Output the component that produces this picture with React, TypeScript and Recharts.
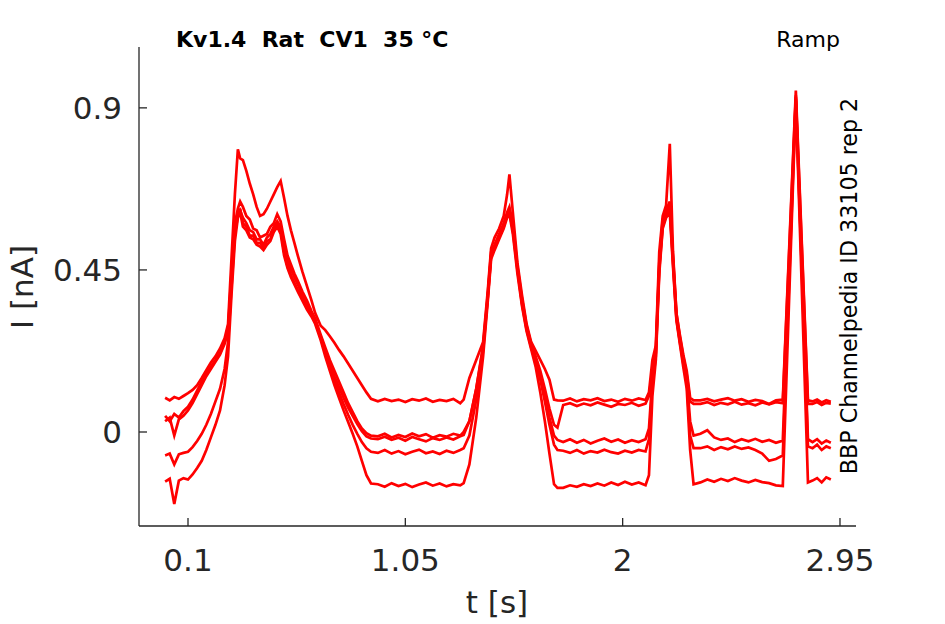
import { LineChart, Line, XAxis, YAxis } from 'recharts';

// sample times [s]
const times = [
  0.0, 0.02, 0.04, 0.06, 0.08, 0.1, 0.12, 0.14, 0.16, 0.18, 0.2, 0.22, 0.24, 0.26, 0.275,
  0.29, 0.305, 0.318, 0.328,
  0.34, 0.355, 0.37, 0.385, 0.4, 0.415, 0.43, 0.445, 0.46, 0.475, 0.49, 0.505, 0.52, 0.535, 0.55, 0.565, 0.58, 0.6, 0.62, 0.64, 0.656,
  0.68, 0.7, 0.72, 0.74, 0.76, 0.78, 0.8, 0.82, 0.84, 0.86, 0.88, 0.9,
  0.93, 0.96, 0.99, 1.02, 1.05, 1.08, 1.11, 1.14, 1.17, 1.2, 1.23, 1.26, 1.29, 1.305,
  1.33, 1.36, 1.39, 1.41, 1.425, 1.44, 1.46, 1.48, 1.495, 1.505,
  1.52, 1.54, 1.56, 1.58, 1.6, 1.62, 1.64, 1.66, 1.68, 1.7, 1.715,
  1.74, 1.77, 1.8, 1.83, 1.86, 1.89, 1.92, 1.95, 1.98, 2.01, 2.04, 2.07, 2.1, 2.115,
  2.13, 2.145, 2.16, 2.175, 2.19, 2.206, 2.22, 2.235, 2.25, 2.265, 2.28, 2.295, 2.31,
  2.34, 2.37, 2.4, 2.43, 2.46, 2.49, 2.52, 2.55, 2.58, 2.61, 2.64, 2.67, 2.7,
  2.757, 2.81,
  2.83, 2.85, 2.87, 2.89, 2.91,
];

// current traces [nA]
const traceA = [
  0.095, 0.088, 0.097, 0.092, 0.1, 0.108, 0.117, 0.13, 0.15, 0.172, 0.193, 0.21, 0.232, 0.26, 0.3,
  0.48, 0.66, 0.785, 0.76,
  0.755, 0.725, 0.69, 0.66, 0.625, 0.6, 0.605, 0.62, 0.64, 0.66, 0.68, 0.697, 0.65, 0.6, 0.56, 0.525, 0.49, 0.445, 0.405, 0.365, 0.33,
  0.295, 0.283, 0.266, 0.248, 0.228, 0.21, 0.19, 0.17, 0.15, 0.13, 0.11, 0.092,
  0.085, 0.092, 0.086, 0.09, 0.083, 0.091, 0.087, 0.093, 0.084, 0.089, 0.086, 0.092, 0.08, 0.09,
  0.15, 0.2, 0.25, 0.39, 0.51, 0.54, 0.565, 0.6, 0.66, 0.715,
  0.61, 0.47, 0.38, 0.3, 0.25, 0.225, 0.2, 0.175, 0.145, 0.09, 0.088,
  0.087, 0.093, 0.085, 0.091, 0.088, 0.094, 0.086, 0.09, 0.084, 0.092, 0.087, 0.093, 0.089, 0.11,
  0.2, 0.24, 0.5, 0.6, 0.63, 0.8, 0.5, 0.33, 0.27, 0.215, 0.17, 0.095, 0.088,
  0.088, 0.092, 0.085, 0.09, 0.094, 0.087, 0.091, 0.084, 0.089, 0.086, 0.078, 0.088, 0.09,
  0.948, 0.088,
  0.085, 0.09, 0.082, 0.088, 0.084,
];
const traceB = [
  0.045, 0.03, 0.05, 0.04, 0.058, 0.07, 0.09, 0.115, 0.14, 0.162, 0.182, 0.2, 0.22, 0.25, 0.285,
  0.44, 0.58, 0.62, 0.64,
  0.625, 0.6, 0.59, 0.565, 0.56, 0.54, 0.545, 0.55, 0.57, 0.58, 0.605, 0.585, 0.535, 0.49, 0.465, 0.44, 0.42, 0.39, 0.365, 0.335, 0.315,
  0.27, 0.235, 0.2, 0.17, 0.14, 0.11, 0.08, 0.055, 0.03, 0.01, -0.003, -0.01,
  -0.012, -0.005, -0.015, -0.008, -0.014, -0.004, -0.012, -0.006, -0.016, -0.009, -0.013, -0.005, -0.01, 0.0,
  0.03, 0.12, 0.24, 0.38, 0.5, 0.52, 0.55, 0.58, 0.61, 0.625,
  0.58, 0.46, 0.37, 0.295, 0.245, 0.21, 0.17, 0.12, 0.065, 0.02, 0.012,
  0.075, 0.08, 0.072, 0.079, 0.074, 0.082, 0.076, 0.07, 0.078, 0.075, 0.081, 0.073, 0.079, 0.1,
  0.17, 0.23, 0.47, 0.59, 0.615, 0.64, 0.49, 0.33, 0.265, 0.21, 0.16, 0.085, 0.078,
  0.078, 0.083, 0.075, 0.081, 0.077, 0.084, 0.076, 0.08, 0.074, 0.082, 0.077, 0.083, 0.08,
  0.935, 0.078,
  0.078, 0.083, 0.075, 0.081, 0.079,
];
const traceC = [
  0.03, 0.04, -0.01, 0.035, 0.045, 0.06, 0.08, 0.105, 0.13, 0.155, 0.175, 0.195, 0.215, 0.245, 0.28,
  0.42, 0.57, 0.6, 0.615,
  0.595, 0.58, 0.56, 0.555, 0.535, 0.535, 0.52, 0.54, 0.55, 0.57, 0.585, 0.57, 0.515, 0.475, 0.45, 0.43, 0.41, 0.38, 0.355, 0.33, 0.31,
  0.265, 0.228, 0.19, 0.155, 0.125, 0.095, 0.068, 0.045, 0.022, 0.002, -0.012, -0.018,
  -0.02, -0.013, -0.022, -0.016, -0.024, -0.014, -0.02, -0.026, -0.017, -0.022, -0.015, -0.021, -0.012, -0.008,
  0.03, 0.12, 0.235, 0.37, 0.49, 0.515, 0.545, 0.575, 0.6, 0.615,
  0.57, 0.455, 0.36, 0.29, 0.24, 0.2, 0.155, 0.1, 0.04, -0.01, -0.022,
  -0.028, -0.02, -0.03, -0.022, -0.032, -0.024, -0.018, -0.027, -0.021, -0.03, -0.023, -0.028, -0.02, 0.01,
  0.15, 0.22, 0.46, 0.58, 0.605, 0.63, 0.48, 0.32, 0.255, 0.2, 0.15, 0.03, -0.01,
  -0.005, 0.005, -0.015, -0.022, -0.018, -0.028, -0.02, -0.026, -0.019, -0.027, -0.022, -0.03, -0.024,
  0.93, -0.02,
  -0.028, -0.02, -0.032, -0.024, -0.03,
];
const traceD = [
  -0.065, -0.06, -0.09, -0.062, -0.058, -0.055, -0.042, -0.025, -0.005, 0.02, 0.05, 0.085, 0.12, 0.175, 0.25,
  0.4, 0.55, 0.6, 0.62,
  0.58, 0.57, 0.545, 0.545, 0.525, 0.525, 0.51, 0.53, 0.535, 0.565, 0.575, 0.56, 0.5, 0.46, 0.435, 0.415, 0.395, 0.37, 0.345, 0.325, 0.305,
  0.26, 0.22, 0.18, 0.145, 0.11, 0.078, 0.048, 0.02, -0.005, -0.028, -0.045, -0.055,
  -0.058, -0.05, -0.06, -0.053, -0.062, -0.055, -0.049, -0.059, -0.054, -0.061, -0.052, -0.058, -0.05, -0.045,
  -0.01, 0.09, 0.225, 0.37, 0.49, 0.51, 0.54, 0.57, 0.6, 0.61,
  0.56, 0.45, 0.355, 0.285, 0.235, 0.195, 0.145, 0.085, 0.02, -0.035, -0.05,
  -0.052, -0.058, -0.05, -0.06, -0.053, -0.057, -0.049, -0.056, -0.06, -0.052, -0.057, -0.05, -0.054, -0.02,
  0.13, 0.21, 0.45, 0.57, 0.6, 0.62, 0.47, 0.315, 0.25, 0.19, 0.14, -0.01, -0.045,
  -0.045, -0.04, -0.05, -0.042, -0.048, -0.04, -0.047, -0.043, -0.05, -0.06, -0.08, -0.075, -0.065,
  0.925, -0.04,
  -0.045, -0.035, -0.05, -0.04, -0.045,
];
const traceE = [
  -0.138, -0.13, -0.2, -0.135, -0.128, -0.132, -0.118, -0.1, -0.08, -0.05, -0.015, 0.02, 0.06, 0.13, 0.21,
  0.38, 0.53, 0.595, 0.61,
  0.57, 0.56, 0.54, 0.535, 0.52, 0.515, 0.505, 0.52, 0.53, 0.555, 0.57, 0.55, 0.49, 0.455, 0.43, 0.41, 0.39, 0.365, 0.34, 0.32, 0.3,
  0.255, 0.21, 0.17, 0.13, 0.095, 0.06, 0.028, -0.005, -0.04, -0.08, -0.12, -0.143,
  -0.145, -0.152, -0.142, -0.15, -0.144, -0.153, -0.146, -0.14, -0.149, -0.143, -0.151, -0.145, -0.148, -0.142,
  -0.09, 0.04, 0.21, 0.36, 0.48, 0.505, 0.535, 0.565, 0.595, 0.605,
  0.55, 0.44, 0.35, 0.28, 0.23, 0.18, 0.11, 0.03, -0.06, -0.145, -0.155,
  -0.155, -0.148, -0.152, -0.145, -0.15, -0.143, -0.149, -0.14, -0.147, -0.138, -0.146, -0.14, -0.148, -0.12,
  0.1, 0.2, 0.44, 0.565, 0.595, 0.61, 0.46, 0.31, 0.245, 0.18, 0.12, -0.05, -0.145,
  -0.14, -0.132, -0.138, -0.13, -0.136, -0.128, -0.135, -0.14, -0.133, -0.139, -0.142, -0.148, -0.15,
  0.92, -0.14,
  -0.135, -0.128, -0.14, -0.126, -0.132,
];

const xTicks = [0.1, 1.05, 2, 2.95];
const yTicks = [0, 0.45, 0.9];

const data = times.map((t, i) => ({
  t,
  a: traceA[i],
  b: traceB[i],
  c: traceC[i],
  d: traceD[i],
  e: traceE[i],
}));

const font = '"DejaVu Sans", sans-serif';
const axisColor = '#262626';
const tickStyle = { fontSize: 31, fill: axisColor, fontFamily: font };

export default function App() {
  return (
    <div style={{ position: 'absolute', left: 0, top: 0, width: 945, height: 624, background: '#fff' }}>
      <LineChart
        width={945}
        height={624}
        data={data}
        margin={{ top: 47, right: 89, bottom: 68, left: 79 }}
      >
        <XAxis
          dataKey="t"
          type="number"
          domain={[-0.1142, 3.02]}
          allowDataOverflow
          ticks={xTicks}
          height={30}
          tickSize={-8}
          tickMargin={31}
          tick={tickStyle}
          stroke={axisColor}
          strokeWidth={1.3}
        />
        <YAxis
          type="number"
          domain={[-0.261, 1.069]}
          allowDataOverflow
          ticks={yTicks}
          width={60}
          tickSize={-8}
          tickMargin={25}
          tick={tickStyle}
          stroke={axisColor}
          strokeWidth={1.3}
        />
        {['a', 'b', 'c', 'd', 'e'].map((k) => (
          <Line
            key={k}
            dataKey={k}
            type="linear"
            stroke="#ff0000"
            strokeWidth={2.7}
            dot={false}
            isAnimationActive={false}
          />
        ))}
      </LineChart>
      <svg
        width={945}
        height={624}
        style={{ position: 'absolute', left: 0, top: 0, pointerEvents: 'none' }}
      >
        <text x={176} y={47} fontFamily={font} fontSize={22} fontWeight="bold" fill="#000" style={{ whiteSpace: 'pre' }}>
          {'Kv1.4  Rat  CV1  35 °C'}
        </text>
        <text x={840} y={47} fontFamily={font} fontSize={22} fill="#000" textAnchor="end">
          Ramp
        </text>
        <text
          x={857}
          y={286}
          fontFamily={font}
          fontSize={22.2}
          fill="#000"
          textAnchor="middle"
          transform="rotate(-90 857 286)"
        >
          BBP Channelpedia ID 33105 rep 2
        </text>
        <text x={497} y={613} fontFamily={font} fontSize={31} fill={axisColor} textAnchor="middle">
          t [s]
        </text>
        <text
          x={33}
          y={287}
          fontFamily={font}
          fontSize={31}
          fill={axisColor}
          textAnchor="middle"
          transform="rotate(-90 33 287)"
        >
          I [nA]
        </text>
      </svg>
    </div>
  );
}
